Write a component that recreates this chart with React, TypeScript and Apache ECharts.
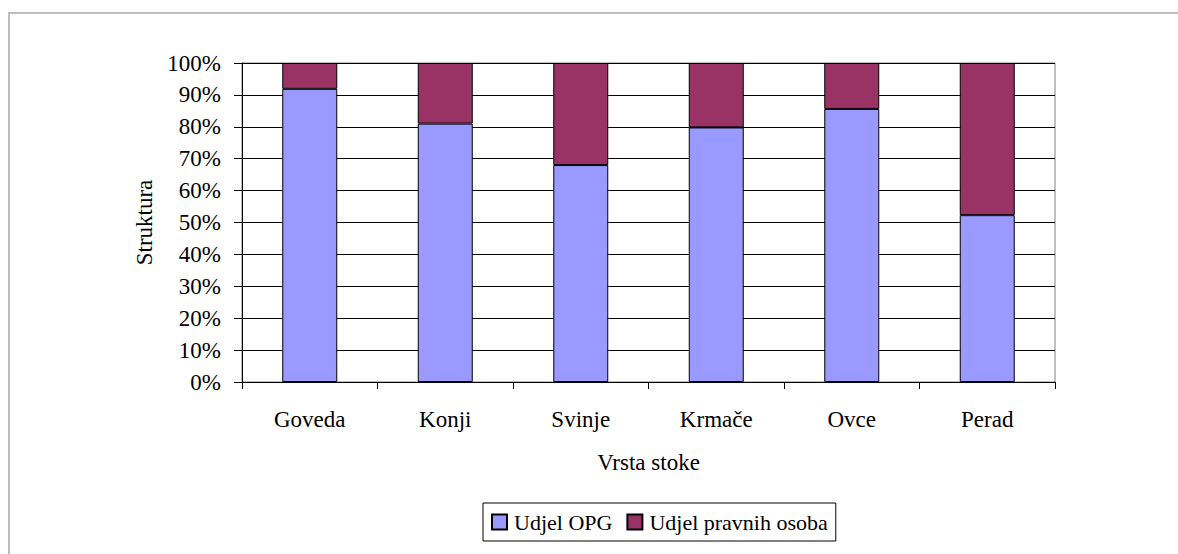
import React, { useEffect, useRef } from "react";
import * as echarts from "echarts";

const categories = ["Goveda", "Konji", "Svinje", "Krmače", "Ovce", "Perad"];
const udjelOPG = [91.9, 81.0, 68.0, 79.8, 85.6, 52.3];
const udjelPravnih = [8.1, 19.0, 32.0, 20.2, 14.4, 47.7];
const seriesNames = ["Udjel OPG", "Udjel pravnih osoba"];
const yAxisTitle = "Struktura";
const xAxisTitle = "Vrsta stoke";

const FONT = "Liberation Serif, Times New Roman, DejaVu Serif, serif";

export default function App() {
  const ref = useRef<HTMLDivElement>(null);
  useEffect(() => {
    if (!ref.current) return;
    const chart = echarts.init(ref.current, null, { renderer: "svg" });
    chart.setOption({
      animation: false,
      backgroundColor: "#ffffff",
      textStyle: { fontFamily: FONT, color: "#000" },
      graphic: [
        {
          type: "rect",
          shape: { x: 9, y: 13, width: 1200, height: 600 },
          style: { fill: "none", stroke: "#bdbdbd", lineWidth: 2 },
          silent: true,
        },
      ],
      grid: {
        left: 242,
        right: 123,
        top: 63,
        bottom: 172,
        show: true,
        borderColor: "#808080",
        borderWidth: 1,
        backgroundColor: "transparent",
      },
      legend: {
        left: 483,
        top: 503,
        orient: "horizontal",
        data: seriesNames,
        icon: "rect",
        itemWidth: 15,
        itemHeight: 15,
        itemGap: 14,
        padding: [8, 8, 8, 8],
        borderColor: "#000",
        borderWidth: 1,
        textStyle: { fontFamily: FONT, fontSize: 22, color: "#000", padding: [0, 0, 0, 2] },
      },
      xAxis: {
        type: "category",
        data: categories,
        name: xAxisTitle,
        nameLocation: "middle",
        nameGap: 69,
        nameTextStyle: { fontFamily: FONT, fontSize: 23, color: "#000" },
        axisLine: { show: true, lineStyle: { color: "#000", width: 1 } },
        axisTick: { show: true, length: 7, alignWithLabel: false, lineStyle: { color: "#000" } },
        axisLabel: { fontFamily: FONT, fontSize: 23, color: "#000", margin: 26 },
        splitLine: { show: false },
      },
      yAxis: {
        type: "value",
        min: 0,
        max: 100,
        interval: 10,
        name: yAxisTitle,
        nameLocation: "middle",
        nameGap: 83,
        nameTextStyle: { fontFamily: FONT, fontSize: 23, color: "#000" },
        axisLine: { show: true, lineStyle: { color: "#000", width: 1 } },
        axisTick: { show: true, length: 8, lineStyle: { color: "#000" } },
        axisLabel: { fontFamily: FONT, fontSize: 23, color: "#000", margin: 21, formatter: "{value}%" },
        splitLine: { show: true, lineStyle: { color: "#000", width: 1 } },
      },
      series: [
        {
          name: seriesNames[0],
          type: "bar",
          stack: "total",
          barWidth: 55,
          data: udjelOPG,
          itemStyle: { color: "#9999ff", borderColor: "#000", borderWidth: 1 },
        },
        {
          name: seriesNames[1],
          type: "bar",
          stack: "total",
          barWidth: 55,
          data: udjelPravnih,
          itemStyle: { color: "#993366", borderColor: "#000", borderWidth: 1 },
        },
      ],
    });
    return () => chart.dispose();
  }, []);
  return (
    <div
      ref={ref}
      style={{ position: "fixed", left: 0, top: 0, width: 1178, height: 554 }}
    />
  );
}
